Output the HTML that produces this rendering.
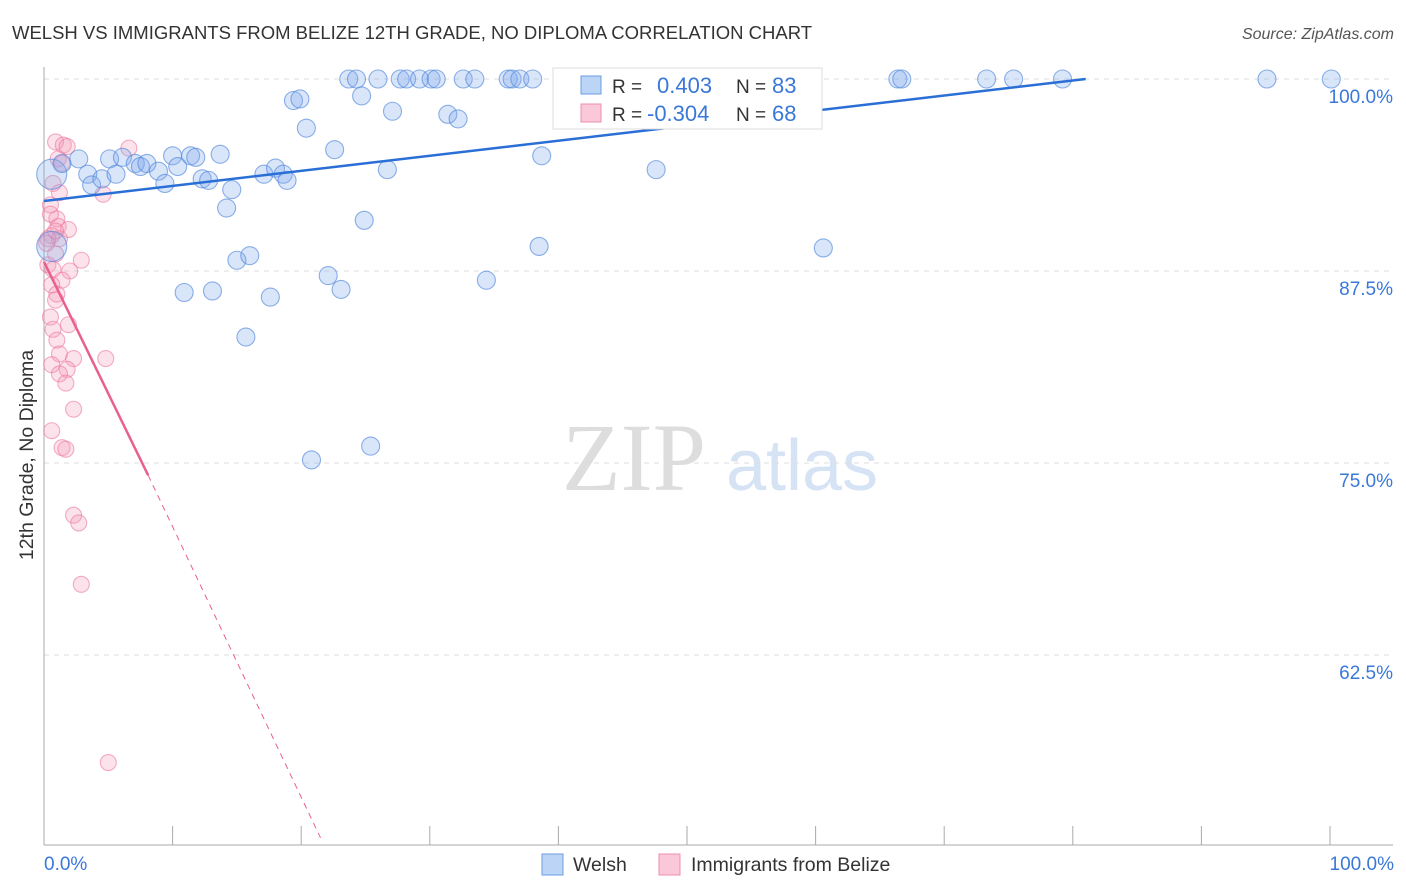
<!DOCTYPE html>
<html><head><meta charset="utf-8">
<style>
body{margin:0;background:#fff;font-family:"Liberation Sans",sans-serif;}
#wrap{position:relative;width:1406px;height:892px;overflow:hidden;}
</style></head>
<body><div id="wrap">
<svg id="svg" width="1406" height="892" xmlns="http://www.w3.org/2000/svg">
<text x="12" y="39" font-size="18.5" fill="#333">WELSH VS IMMIGRANTS FROM BELIZE 12TH GRADE, NO DIPLOMA CORRELATION CHART</text>
<text x="1394" y="39" font-size="16" fill="#555" font-style="italic" text-anchor="end">Source: ZipAtlas.com</text>
<text x="33" y="455" font-size="19.5" fill="#333" text-anchor="middle" transform="rotate(-90 33 455)">12th Grade, No Diploma</text>
<text x="634" y="490" font-size="96" fill="#ddd" font-family="Liberation Serif" text-anchor="middle">ZIP</text>
<text x="802" y="490" font-size="72" fill="#d5e3f5" text-anchor="middle">atlas</text>
<g id="grid"></g><g id="marks"></g><g id="lines"></g>
<g>
<rect x="553" y="68" width="269" height="61" fill="#fff" stroke="#ddd"/>
<rect x="581" y="76" width="20" height="18" fill="#bcd4f5" stroke="#6a9be0"/>
<rect x="581" y="104" width="20" height="18" fill="#fac8d8" stroke="#ee8fb0"/>
<text x="612" y="93" font-size="19" fill="#333">R = </text><text x="657" y="93" font-size="22" fill="#3a78d8">0.403</text>
<text x="736" y="93" font-size="19" fill="#333">N = </text><text x="772" y="93" font-size="22" fill="#3a78d8">83</text>
<text x="612" y="121" font-size="19" fill="#333">R = </text><text x="647" y="121" font-size="22" fill="#3a78d8">-0.304</text>
<text x="736" y="121" font-size="19" fill="#333">N = </text><text x="772" y="121" font-size="22" fill="#3a78d8">68</text>
</g>
<g>
<rect x="542" y="854" width="21" height="21" fill="#bcd4f5" stroke="#6a9be0"/>
<text x="573" y="871" font-size="19.5" fill="#333">Welsh</text>
<rect x="659" y="854" width="21" height="21" fill="#fac8d8" stroke="#ee8fb0"/>
<text x="691" y="871" font-size="19.5" fill="#333">Immigrants from Belize</text>
</g>
<text x="44" y="870" font-size="19" fill="#3a78d8">0.0%</text>
<text x="1394" y="870" font-size="19" fill="#3a78d8" text-anchor="end">100.0%</text>
</svg></div>
<script>
const yTicks=[100,87.5,75,62.5];
const yTickLabels=["100.0%","87.5%","75.0%","62.5%"];
const xTicks=[0,10,20,30,40,50,60,70,80,90,100];
const welshX=[0.6,0.6,1.4,2.7,3.4,3.7,4.5,5.1,5.6,6.1,7.1,7.5,8.0,8.9,9.4,10.0,10.4,10.9,11.4,11.8,12.3,12.8,13.1,13.7,14.2,14.6,15.0,15.7,16.0,17.1,17.6,18.0,18.6,18.9,19.4,19.9,20.4,20.8,22.1,22.6,23.1,23.7,24.3,24.7,24.9,25.4,25.97,26.7,27.1,27.7,28.2,29.2,30.1,30.5,31.4,32.2,32.6,33.5,34.4,36.1,36.4,37.0,38.0,38.5,38.7,40.3,45.6,47.6,54.3,60.6,66.4,66.7,73.3,75.4,79.2,95.1,100.1];
const welshY=[93.8,89.1,94.5,94.8,93.8,93.1,93.5,94.8,93.8,94.9,94.5,94.3,94.5,94.0,93.2,95.0,94.3,86.1,95.0,94.9,93.5,93.4,86.2,95.1,91.6,92.8,88.2,83.2,88.5,93.8,85.8,94.2,93.8,93.4,98.6,98.7,96.8,75.2,87.2,95.4,86.3,100,100,98.9,90.8,76.1,100,94.1,97.9,100,100,100,100,100,97.7,97.4,100,100,86.9,100,100,100,100,89.1,95.0,100,100,94.1,100,89.0,100,100,100,100,100,100,100];
const belizeX=[0.9,1.5,1.8,1.1,1.4,6.6,4.6,0.7,1.2,1.0,1.1,1.9,0.6,1.2,0.9,2.9,0.3,0.7,2.0,1.4,0.6,1.0,0.9,0.5,0.7,1.9,1.0,1.2,2.3,4.8,0.6,1.8,1.2,1.7,2.3,0.6,1.4,1.7,2.3,2.7,2.9,5.0,0.5,0.5,0.3,0.2,0.9];
const belizeY=[95.9,95.7,95.6,94.8,94.5,95.5,92.5,93.2,92.6,90.9,90.4,90.2,89.8,89.6,88.6,88.2,87.9,87.6,87.5,86.9,86.6,86.0,85.6,84.5,83.7,84.0,83.0,82.1,81.8,81.8,81.4,81.1,80.8,80.2,78.5,77.1,76.0,75.9,71.6,71.1,67.1,55.5,91.8,91.2,89.6,89.3,90.1];
const NS="http://www.w3.org/2000/svg";
const X0=44,X1=1330,Y100=79,PXPER=192/12.5;
const xs=v=>X0+(X1-X0)*v/100;
const ys=v=>Y100+(100-v)*PXPER;
function mk(t,a){const e=document.createElementNS(NS,t);for(const k in a)e.setAttribute(k,a[k]);return e;}
const grid=document.getElementById('grid');
yTicks.forEach((t,i)=>{
 const l=mk('line',{x1:44,x2:1393,y1:ys(t),y2:ys(t),stroke:'#ddd','stroke-dasharray':'5,5'});
 
 
 grid.appendChild(l);
 const tx=mk('text',{x:1393,y:ys(t)+24,'font-size':19,fill:'#3a78d8','text-anchor':'end'});
 tx.textContent=yTickLabels[i];
 
 
 grid.appendChild(tx);
});
const ax=mk('line',{x1:44,x2:1393,y1:845,y2:845,stroke:'#aaa'});


grid.appendChild(ax);
const ay=mk('line',{x1:44,x2:44,y1:67,y2:845,stroke:'#aaa'});


grid.appendChild(ay);
xTicks.forEach(t=>{
 const l=mk('line',{x1:xs(t),x2:xs(t),y1:826,y2:845,stroke:'#aaa'});
 
 
 grid.appendChild(l);
});
const marks=document.getElementById('marks');
belizeX.forEach((v,i)=>{
 const c=mk('circle',{cx:xs(v),cy:ys(belizeY[i]),r:8,fill:'rgba(245,150,180,0.28)',stroke:'rgba(235,120,160,0.6)','stroke-width':1.1});
 
 
 marks.appendChild(c);
});
welshX.forEach((v,i)=>{
 const c=mk('circle',{cx:xs(v),cy:ys(welshY[i]),r:(i<2?15:9),fill:'rgba(130,170,235,0.3)',stroke:'rgba(80,135,220,0.65)','stroke-width':1.1});
 
 
 marks.appendChild(c);
});
const lines=document.getElementById('lines');
const bl=mk('line',{x1:xs(0),y1:ys(92.06),x2:xs(81),y2:ys(100),stroke:'#2a6fd6','stroke-width':2.5});


lines.appendChild(bl);
const pl=mk('line',{x1:xs(0),y1:ys(88.1),x2:xs(8.1),y2:ys(74.2),stroke:'#e8608e','stroke-width':2.5});


lines.appendChild(pl);
const pd=mk('line',{x1:xs(8.1),y1:ys(74.2),x2:xs(21.5),y2:ys(50.6),stroke:'#e8608e','stroke-width':1,'stroke-dasharray':'6,5'});


lines.appendChild(pd);
</script>
</body></html>
